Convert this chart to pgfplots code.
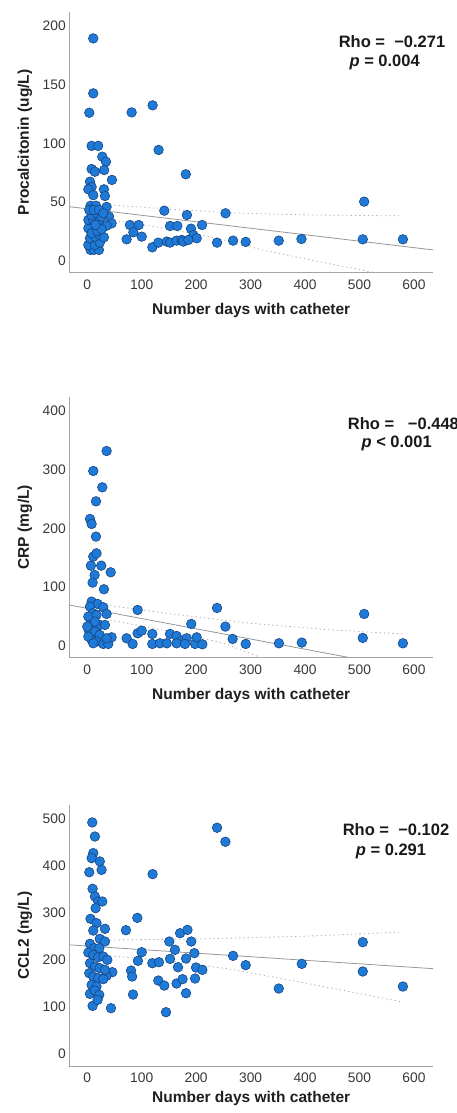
\documentclass[border=0pt]{standalone}
\usepackage{fontspec}
\setmainfont{Liberation Sans}
\usepackage{pgfplots}
\usepackage{pgfplotstable}
\pgfplotsset{compat=1.18}
\definecolor{ptfill}{RGB}{30,122,214}
\definecolor{ptedge}{RGB}{22,68,130}
\definecolor{axgray}{RGB}{165,165,165}
\definecolor{reggray}{RGB}{150,150,150}
\definecolor{cigray}{RGB}{175,175,175}

\pgfplotstableread{
x y
11 189.5
11 142.7
3.7 126.2
81.5 126.5
120 132.5
131 94.5
181 73.8
8 98
20 98
27.6 88.8
34.3 84.5
45.3 69
8 78.3
14 76
31 77.4
5 67.5
8 63
2 61
30.6 61
32.5 55.3
11 56
35.5 46
6 47
16 47
141.5 42.8
183 39.1
254 40.6
508.6 50.5
40 37.7
44.7 32
35.5 30
2 27.8
17 30
78.4 30.6
94.4 30.6
84.6 24.4
100 20.7
72.3 18.4
152 29.8
165.4 29.8
190.5 27.5
210.8 30.6
195 22
201 19.3
119.5 11.6
130.5 15.6
146 16.5
152 15.6
164 17.3
173.4 17.9
176.5 16.5
185.6 17.9
238.4 15.6
267.8 17.3
291 16.2
351.7 17.3
393.4 18.7
506 18.4
579.7 18.4
6 9.4
12 9.4
21.4 9.4
2 13.6
14 13.6
23 15.6
5 19.3
14 20.7
23 22
30.6 20.1
8 23.5
18.4 25.5
26.3 27
2 35
11 35
23 35
8 39
17 40.6
26.3 37.7
3.7 43.4
12 43.4
22 43.4
15 30.6
29.4 40.6
}\pctdata

\pgfplotstableread{
x y
35.5 331.6
11 297.6
27.6 269.8
16 246
5 216
8 207.5
16 186
11 152
17 157.6
6.7 136.6
25.7 136.6
13.5 120.7
43 125.3
9.8 107.7
30.6 96.4
92.5 61.2
238.4 64.6
508.6 54.4
191 37.4
253.7 32.9
506 13.6
579.7 4.5
394 5.7
352 4.5
291 3.4
267 11.9
72.3 13
83.3 3.4
92.5 21.5
100 26
119.5 20.4
119.5 3.4
133.6 4.5
146 4.5
152 20.4
164 17
173.4 9
182.6 13
198 3.4
201 14.7
211.4 2.8
164 4.5
179.5 3.4
8 75.4
19 71.4
29.4 65.8
35.5 54.4
5 66.9
9.8 55.6
2 49.9
17 52.7
5 35.7
23 35.7
32.5 35.7
14 41.4
3.7 24.4
14 24.4
23 18.7
8 10.2
17 7.4
29.4 3.4
38.6 3.4
44.7 14.7
35.5 13
2 15.9
11 4.5
0 32.9
}\crpdata

\pgfplotstableread{
x y
9.2 492.9
14 463
11 427.7
8 417
23 410
26.3 392
3.7 387
9.8 351.8
238.4 481.6
253.7 451.8
120 383
14 335.5
20.2 324.8
27.6 324.8
15.3 310.6
6 288
17 278.7
11 263
32.5 266.7
92 290
71 263.8
23 245.4
32.5 239.7
506 238.3
150.7 239.7
170.5 257.4
184 264.5
191 239.7
161 222
267.8 209.2
291 189.4
394 192.2
506 175.9
579.7 144
351.7 139.7
100 217
93 198.6
119.5 193.6
131.7 195.7
152 202.8
166.7 185
181.4 203.5
196.7 214.9
199.8 184.4
211.4 179.4
80.4 178
82.4 165.2
84 127
130.5 156.7
141.5 146
164 150.4
175 159.6
198 161
181.4 129.8
144.6 89.4
43.5 97.9
9.8 102.8
46 174.5
35.5 166.7
5 234.8
13 225.5
22 225.5
2 216.3
11 211.3
20.2 206.4
29.4 207.8
36.8 200.7
5 193.6
14 186.5
23 183
32.5 179.4
3.7 172.3
11 165.2
20.2 161.7
29.4 159.6
8 147.5
17 144
5 128.4
14 135.5
22 126.2
19 115.6
}\ccldata

\pgfplotsset{
  panel/.style={
    scale only axis, width=363.7pt, height=261pt,
    anchor=south west,
    xmin=-33, xmax=635,
    axis lines*=left,
    axis line style={draw=axgray, line width=0.9pt, -},
    major tick length=0pt,
    xtick={0,100,...,600},
    /pgf/number format/assume math mode=true,
    tick label style={font=\fontsize{13.8}{15}\selectfont, text=black!78},
    xticklabel style={yshift=-3.5pt},
    xlabel={Number days with catheter},
    xlabel style={font=\bfseries\fontsize{15.5}{17}\selectfont, text=black!88,
      at={(axis description cs:0.5,0)}, anchor=center},
    ylabel style={font=\bfseries\fontsize{15.5}{17}\selectfont, text=black!88,
      at={(axis description cs:0,0.5)}, anchor=center, yshift=44.3pt},
    clip=true,
  },
  pts/.style={only marks, mark=*, mark size=4.8pt,
    mark options={fill=ptfill, draw=ptedge, line width=0.6pt}},
  regl/.style={reggray, line width=0.8pt, no marks},
  cil/.style={cigray, line width=0.8pt, dash pattern=on 1.3pt off 3pt, no marks},
}

\begin{document}
\begin{tikzpicture}
\useasboundingbox (0,0) rectangle (457pt,1113pt);

% Panel 1
\begin{axis}[panel, at={(69.3pt,840.3pt)}, height=260.7pt,
  ymin=-10, ymax=212, ytick={0,50,...,200},
  ylabel={Procalcitonin (ug/L)},
  xlabel style={yshift=-38pt}]
\addplot[cil] coordinates {(42,47.7)(150,44.2)(270,40.9)(400,39.2)(575,38.4)};
\addplot[cil] coordinates {(42,35)(120,29.5)(210,22)(330,8.5)(430,-1)(540,-11)};
\addplot[regl] coordinates {(-33,46.2)(635,9.4)};
\addplot[pts] table[x=x,y=y] {\pctdata};
\end{axis}

% Panel 2
\begin{axis}[panel, at={(69.3pt,455.3pt)},
  ymin=-20, ymax=424, ytick={0,100,...,400},
  ylabel={CRP (mg/L)},
  xlabel style={yshift=-38pt}]
\addplot[cil] coordinates {(42,68.5)(150,55)(300,38.5)(450,27)(581,20.4)};
\addplot[cil] coordinates {(42,44)(150,25)(250,5)(330,-24)};
\addplot[regl] coordinates {(-33,69.7)(635,-46.5)};
\addplot[pts] table[x=x,y=y] {\crpdata};
\end{axis}

% Panel 3
\begin{axis}[panel, at={(69.3pt,47pt)},
  ymin=-25, ymax=530, ytick={0,100,...,500},
  ylabel={CCL2 (ng/L)},
  xlabel style={yshift=-32pt}]
\addplot[cil] coordinates {(42,243)(200,245)(400,251)(575,259.6)};
\addplot[cil] coordinates {(42,209)(150,199)(268,180)(420,147)(575,112)};
\addplot[regl] coordinates {(-33,232.6)(635,182)};
\addplot[pts] table[x=x,y=y] {\ccldata};
\end{axis}

% statistics text
\begin{scope}[every node/.style={inner sep=0pt, text=black!90}]
\node at (392pt,1071pt) {\bfseries\fontsize{16.5}{18}\selectfont Rho =\ \ −0.271};
\node at (384.7pt,1050.5pt) {\bfseries\fontsize{16.5}{18}\selectfont \textit{p} = 0.004};
\node[anchor=west] at (347.7pt,689pt) {\bfseries\fontsize{16.5}{18}\selectfont Rho =\ \ \ −0.448};
\node at (396.7pt,670pt) {\bfseries\fontsize{16.5}{18}\selectfont \textit{p} < 0.001};
\node at (396pt,283pt) {\bfseries\fontsize{16.5}{18}\selectfont Rho =\ \ −0.102};
\node at (391pt,262pt) {\bfseries\fontsize{16.5}{18}\selectfont \textit{p} = 0.291};
\end{scope}
\end{tikzpicture}
\end{document}
